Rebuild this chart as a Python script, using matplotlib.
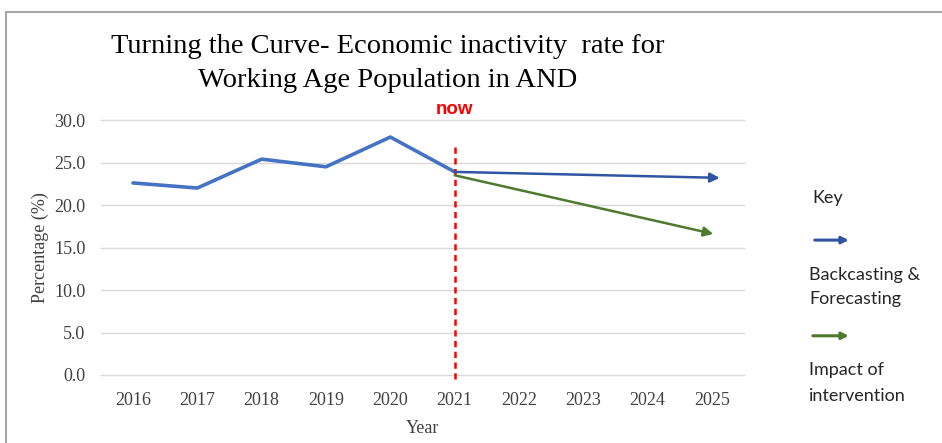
import numpy as np
import matplotlib.pyplot as plt
from matplotlib.patches import Rectangle, FancyArrowPatch

""" DONNEES """
annees = ["2016", "2017", "2018", "2019", "2020", "2021", "2022", "2023", "2024", "2025"]
historique = [22.6, 22.0, 25.4, 24.5, 28.0, 23.9]
prevision_annees = ["2021", "2025"]
prevision = [23.9, 23.2]
intervention = [23.5, 16.6]
yticks = [0, 5, 10, 15, 20, 25, 30]

bleu = "#4472C4"
bleu_fonce = "#2F55A2"
vert = "#4E7A2E"

""" FIGURE """
fig = plt.figure(figsize=(9.42, 4.43), dpi=100)
fig.patches.append(Rectangle((0.006, -0.01), 1.0, 0.982, transform=fig.transFigure,
                             fill=False, edgecolor="#a6a6a6", linewidth=1.5))

ax = fig.add_axes([0.107, 0.1535, 0.683, 0.5755])
x = np.arange(len(annees))
pos = {a: i for i, a in enumerate(annees)}

ax.plot(x[:len(historique)], historique, color=bleu, linewidth=2.6, solid_capstyle="round")

xp = [pos[a] for a in prevision_annees]
ax.annotate("", xy=(xp[1] + 0.12, prevision[1]), xytext=(xp[0], prevision[0]),
            arrowprops=dict(arrowstyle="-|>", color=bleu_fonce, lw=1.8, mutation_scale=14,
                            shrinkA=0, shrinkB=0))
ax.annotate("", xy=(xp[1] + 0.02, intervention[1]), xytext=(xp[0], intervention[0]),
            arrowprops=dict(arrowstyle="-|>", color=vert, lw=1.8, mutation_scale=14,
                            shrinkA=0, shrinkB=0))

ax.plot([pos["2021"], pos["2021"]], [-0.5, 27.3], color="red", linestyle=(0, (2.5, 1.8)),
        linewidth=1.8, clip_on=False)
ax.text(pos["2021"], 30.3, "now", color="red", fontweight="bold", fontsize=13.5,
        ha="center", va="bottom", family="Liberation Sans")

ax.set_xlim(-0.5, len(annees) - 0.5)
ax.set_ylim(0, 30)
ax.set_xticks(x)
ax.set_xticklabels(annees)
ax.set_yticks(yticks)
ax.set_yticklabels([f"{v:.1f}" for v in yticks])
ax.grid(axis="y", color="#d9d9d9", linewidth=1)
for gl in ax.get_ygridlines():
    gl.set_clip_on(False)
ax.set_axisbelow(True)
for s in ax.spines.values():
    s.set_visible(False)
ax.tick_params(length=0, labelsize=13, labelcolor="#404040")
ax.tick_params(axis="x", pad=12.5)
ax.tick_params(axis="y", pad=11)
for lab in ax.get_xticklabels() + ax.get_yticklabels():
    lab.set_family("Liberation Serif")
ax.set_xlabel("Year", family="Liberation Serif", fontsize=13, color="#404040", labelpad=8)
ax.set_ylabel("Percentage (%)", family="Liberation Serif", fontsize=13, color="#404040", labelpad=4)

fig.text(0.412, 0.857, "Turning the Curve- Economic inactivity  rate for\nWorking Age Population in AND",
         ha="center", va="center", family="Liberation Serif", fontsize=20.5, linespacing=1.45)

# legende "Key"
fig.text(0.862, 0.553, "Key", fontsize=13, family="Lato", color="#262626", va="center")
fig.patches.append(FancyArrowPatch((0.862, 0.458), (0.904, 0.458), transform=fig.transFigure,
                                   arrowstyle="-|>", color=bleu_fonce, lw=2.2, mutation_scale=10))
fig.text(0.859, 0.352, "Backcasting &\nForecasting", fontsize=13, family="Lato",
         color="#262626", va="center", linespacing=1.6)
fig.patches.append(FancyArrowPatch((0.860, 0.242), (0.904, 0.242), transform=fig.transFigure,
                                   arrowstyle="-|>", color=vert, lw=2.2, mutation_scale=10))
fig.text(0.859, 0.136, "Impact of\nintervention", fontsize=13, family="Lato",
         color="#262626", va="center", linespacing=1.75)

fig.savefig("out.png", dpi=100)
